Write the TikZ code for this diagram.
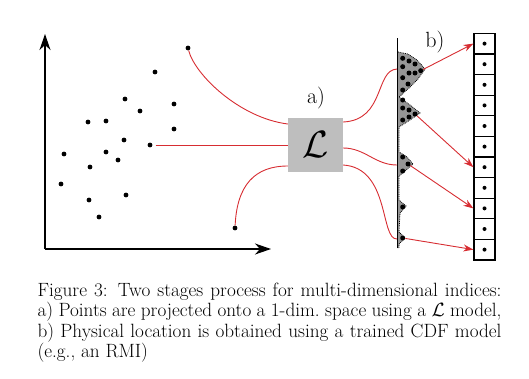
\RequirePackage{fix-cm}
\documentclass[tikz,border=0pt]{standalone}
\usetikzlibrary{arrows.meta,calc}
\definecolor{lred}{RGB}{215,45,50}
\definecolor{boxgray}{RGB}{190,190,190}
\definecolor{distgray}{RGB}{150,150,150}
\newcommand{\capline}[1]{\makebox[464pt][s]{#1}}
\begin{document}
\begin{tikzpicture}[x=1pt,y=-1pt,
  pt/.style={circle,fill=black,inner sep=0pt,minimum size=4.8pt},
  dpt/.style={circle,fill=black,inner sep=0pt,minimum size=5pt},
  cell/.style={draw=black,line width=1.2pt,minimum width=21pt,minimum height=20.6pt,inner sep=0pt},
  link/.style={draw=lred,line width=0.9pt},
  arr/.style={link,-{Stealth[length=10pt,width=7pt]}},
  axis/.style={line width=1.2pt,-{Stealth[length=16pt,width=11pt,inset=5pt]}},
  lbl/.style={inner sep=0pt,font=\fontsize{22}{26}\selectfont},
]
\useasboundingbox (0,0) rectangle (529,378);
% axes
\coordinate (O) at (45,249);
\coordinate (ytop) at (45,34);
\coordinate (xend) at (271,249);
\draw[axis] (O) -- (ytop);
\draw[axis] (O) -- (xend);
% scatter points
\foreach \n/\x/\y in {1/188/48,2/155/72,3/125/99,4/174/104,5/140/111,6/88/122,7/106/121,8/174/129,9/124/140,10/150/145,11/64/154,12/106/152,13/118/160,14/90/167,15/61/184,16/89/200,17/126/195,18/99/217,19/235/228}
  \node[pt] (p\n) at (\x,\y) {};
% L box
\node[fill=boxgray,minimum width=55pt,minimum height=54pt,inner sep=0pt] (L) at (315.5,145)
  {\fontsize{38}{42}\selectfont$\mathcal{L}$};
\node[lbl] (la) at (316,98) {a)};
\node[lbl] (lb) at (435,42) {b)};
% distribution
\path[fill=distgray] (397,52) -- (408,54) -- (417,60) -- (425,69) -- (418,79) -- (409,88) -- (399,97)
  -- (410,105) -- (420,113) -- (410,120) -- (399,127) -- (399,152) -- (407,157) -- (413,164)
  -- (405,171) -- (399,176) -- (399,200) -- (406,206) -- (400,213) -- (399,232) -- (405,238)
  -- (399,244) -- (399,248) -- (397,248) -- cycle;
\draw[densely dotted,line width=0.8pt] (398,52) -- (408,54) -- (417,60) -- (425,69) -- (418,79) -- (409,88) -- (399,97)
  -- (410,105) -- (420,113) -- (410,120) -- (399,127) -- (399,152) -- (407,157) -- (413,164)
  -- (405,171) -- (399,176) -- (399,200) -- (406,206) -- (400,213) -- (399,232) -- (405,238)
  -- (399,244) -- (399,248);
\coordinate (vt) at (397.5,38);
\coordinate (vb) at (397.5,248);
\draw[line width=1.8pt] (vt) -- (vb);
\foreach \n/\x/\y in {1/402.7/58.3,2/409/61,3/415/64,4/420.7/70.7,5/402.7/66.7,6/409/73,7/415/73,8/402.7/77.7,9/408/84,10/402.7/90,11/402.7/100,12/402.7/108,13/409/110,14/415/114,15/409/117,16/402.7/120,17/402.7/157,18/408/164,19/402.7/171,20/402.7/207,21/402.7/238}
  \node[dpt] (d\n) at (\x,\y) {};
% endpoints on the line
\coordinate (e1) at (397,69);
\coordinate (e2) at (397,165);
\coordinate (e3) at (397,239);
% array
\foreach \i in {1,...,11} {
  \node[cell] (c\i) at (484.5,{33.3+(\i-0.5)*20.6}) {};
  \fill (c\i.center) circle (2pt);
}
% connectors left
\draw[link] (p1) .. controls +(7,27) and +(-48,-6) .. ([yshift=21pt]L.west);
\draw[link,shorten <=3pt] (p10) -- (L.west);
\draw[link] (p19) .. controls +(2,-43) and +(-33,0) .. ([yshift=-21pt]L.west);
% connectors right
\draw[link] ([yshift=23pt]L.east) .. controls +(42,-2) and +(-22,1) .. (e1);
\draw[link] ([yshift=-3pt]L.east) .. controls +(22,0) and +(-22,0) .. (e2);
\draw[link] ([yshift=-20pt]L.east) .. controls +(47,3) and +(-17,1) .. (e3);
% arrows to array
\draw[arr] (d4) -- (c1.west);
\draw[arr] (d14) -- (c7.west);
\draw[arr] (d18) -- (c9.west);
\draw[arr] (d21) -- (c11.west);
% caption
\node[anchor=north west,inner sep=0pt,align=left,
  font=\fontsize{19.2}{20.6}\selectfont] (cap) at (37.3,282.4)
  {\capline{Figure 3: Two stages process for multi-dimensional indices:}\\
   \capline{a) Points are projected onto a 1-dim.\ space using a $\mathcal{L}$ model,}\\
   \capline{b) Physical location is obtained using a trained CDF model}\\
   (e.g., an RMI)};
\end{tikzpicture}
\end{document}
